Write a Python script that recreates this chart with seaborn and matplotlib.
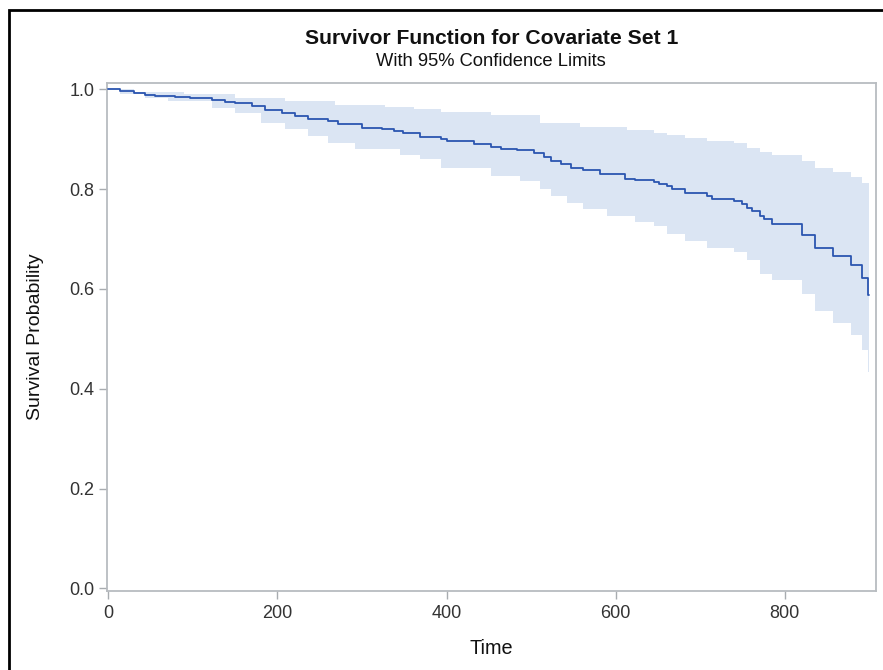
import matplotlib
matplotlib.use("Agg")
import matplotlib.pyplot as plt
import seaborn as sns
import pandas as pd
from matplotlib.patches import Rectangle

# Survival step curve
surv_time = [0, 14, 30, 43, 55, 79, 96, 122, 138, 150, 170, 185, 205, 221, 236, 260, 272, 300,
             324, 338, 349, 369, 393, 401, 432, 452, 464, 483, 503, 515, 523, 535, 547, 562, 582,
             611, 623, 645, 651, 661, 667, 682, 708, 714, 740, 749, 755, 761, 771, 775, 785, 821,
             836, 857, 878, 891, 899, 900]
surv_prob = [1.0, 0.997, 0.993, 0.989, 0.987, 0.985, 0.982, 0.979, 0.975, 0.972, 0.967, 0.959,
             0.953, 0.947, 0.941, 0.937, 0.930, 0.923, 0.920, 0.917, 0.912, 0.905, 0.900, 0.896,
             0.890, 0.885, 0.881, 0.878, 0.872, 0.865, 0.857, 0.850, 0.843, 0.839, 0.830, 0.821,
             0.819, 0.815, 0.811, 0.807, 0.801, 0.792, 0.787, 0.781, 0.776, 0.770, 0.763, 0.757,
             0.747, 0.740, 0.731, 0.709, 0.683, 0.666, 0.648, 0.621, 0.588, 0.588]

# 95% confidence band
band_time = [0, 14, 30, 43, 70, 90, 122, 150, 181, 209, 236, 260, 268, 292, 327, 345, 361, 369,
             393, 452, 487, 511, 523, 543, 558, 562, 590, 613, 623, 645, 661, 682, 708, 740, 755,
             771, 785, 821, 836, 857, 878, 891, 899, 900]
band_upper = [1.0, 1.0, 0.995, 0.995, 0.995, 0.99, 0.99, 0.983, 0.983, 0.977, 0.977, 0.977,
              0.968, 0.968, 0.965, 0.965, 0.961, 0.961, 0.955, 0.948, 0.948, 0.933, 0.933, 0.933,
              0.925, 0.925, 0.925, 0.919, 0.919, 0.913, 0.908, 0.903, 0.897, 0.892, 0.883, 0.875,
              0.869, 0.857, 0.843, 0.835, 0.825, 0.813, 0.813, 0.813]
band_lower = [1.0, 0.99, 0.99, 0.983, 0.977, 0.977, 0.963, 0.953, 0.933, 0.92, 0.907, 0.893,
              0.893, 0.88, 0.88, 0.868, 0.868, 0.86, 0.843, 0.827, 0.817, 0.80, 0.787, 0.773,
              0.773, 0.76, 0.747, 0.747, 0.735, 0.727, 0.71, 0.697, 0.683, 0.673, 0.657, 0.63,
              0.617, 0.59, 0.555, 0.532, 0.508, 0.477, 0.434, 0.434]

x_ticks = [0, 200, 400, 600, 800]
y_ticks = [0.0, 0.2, 0.4, 0.6, 0.8, 1.0]

sns.set_theme(style="white")
plt.rcParams['font.family'] = ['Liberation Sans', 'DejaVu Sans']

W, H = 883, 670
fig = plt.figure(figsize=(W / 100, H / 100), dpi=100)
l, r, t, b = 106.7, 876, 82.7, 591
aw, ah = r - l, b - t
ax = fig.add_axes([l / W, (H - b) / H, aw / W, ah / H])

ax.fill_between(band_time, band_lower, band_upper, step='post', color='#DBE5F3', lw=0, zorder=1)
df = pd.DataFrame({'time': surv_time, 'surv': surv_prob})
sns.lineplot(data=df, x='time', y='surv', ax=ax, drawstyle='steps-post', estimator=None,
             sort=False, color='#2B55B0', lw=1.3, zorder=3)

ax.set_xlim(-2, 908)
ax.set_ylim(-0.0054, 1.0133)
ax.set_xticks(x_ticks)
ax.set_xticklabels([str(v) for v in x_ticks])
ax.set_yticks(y_ticks)
ax.set_yticklabels([f"{v:.1f}" for v in y_ticks])

for s in ax.spines.values():
    s.set_color('#B8BCC0')
    s.set_linewidth(1.3)
ax.tick_params(axis='both', which='major', direction='out', length=6, width=1,
               color='#A8ACB0', labelsize=13, labelcolor='#333333',
               bottom=True, left=True, top=False, right=False)
ax.tick_params(axis='y', pad=3)
ax.tick_params(axis='x', pad=4)

ax.set_xlabel('Time', fontsize=14.3, color='#111111')
ax.xaxis.set_label_coords(0.5, -(648 - b) / ah)
ax.xaxis.label.set_va('center')
ax.set_ylabel('Survival Probability', fontsize=14, color='#111111')
ax.yaxis.set_label_coords(-(l - 36) / aw, 0.5)
ax.yaxis.label.set_va('center')

cx = (l + r) / 2 / W
fig.text(cx, 1 - 38 / H, 'Survivor Function for Covariate Set 1', ha='center', va='center',
         fontsize=15.2, fontweight='bold', color='#111111')
fig.text(cx, 1 - 61 / H, 'With 95% Confidence Limits', ha='center', va='center',
         fontsize=13.2, color='#111111')

fig.patches.append(Rectangle((8.5 / W, -0.1), 1.2, 1 - 10.5 / H + 0.1, transform=fig.transFigure,
                             fill=False, edgecolor='black', lw=2, zorder=10))

fig.savefig('out.png', dpi=100)
